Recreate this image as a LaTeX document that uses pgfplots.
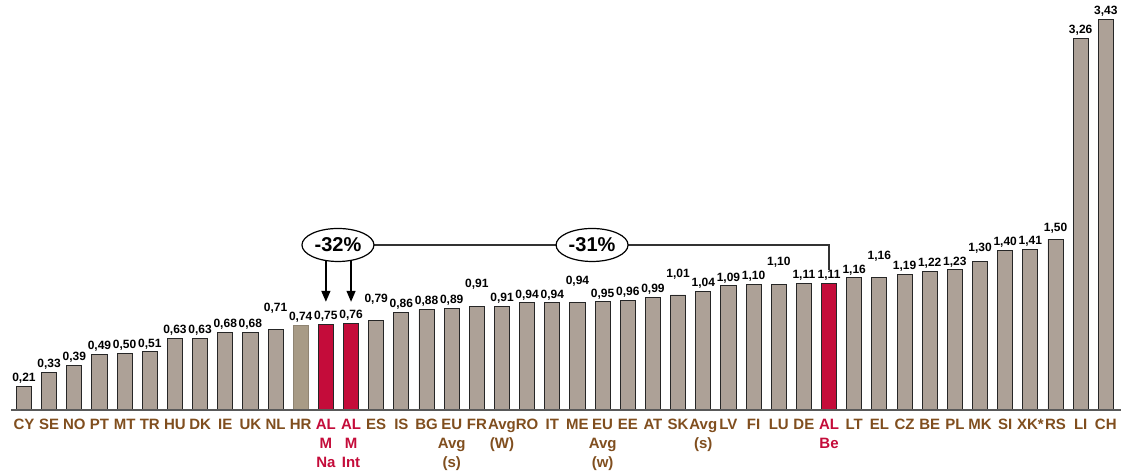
\documentclass[border=0pt]{standalone}
\usepackage{fontspec}
\setmainfont{Liberation Sans}
\usepackage{pgfplots}
\usepackage{pgfplotstable}
\pgfplotsset{compat=1.18}
\usetikzlibrary{shapes.geometric,arrows.meta}

\definecolor{barcol}{RGB}{173,161,151}
\definecolor{hrcol}{RGB}{168,155,134}
\definecolor{albred}{RGB}{196,12,58}
\definecolor{labbrown}{RGB}{128,78,30}

% x index, value, extra lift of the value label (pt)
\pgfplotstableread{
x y off
0 0.21 0
1 0.33 0
2 0.39 0
3 0.49 0
4 0.50 0
5 0.51 0
6 0.63 0
7 0.63 0
8 0.68 0
9 0.68 0
10 0.71 13
11 0.74 0
12 0.75 0
13 0.76 0
14 0.79 13
15 0.86 0
16 0.88 0
17 0.89 0
18 0.91 14
19 0.91 0
20 0.94 0
21 0.94 0
22 0.94 14
23 0.95 0
24 0.96 0
25 0.99 0
26 1.01 13
27 1.04 0
28 1.09 0
29 1.10 0
30 1.10 14
31 1.11 0
32 1.11 0
33 1.16 0
34 1.16 14
35 1.19 0
36 1.22 0
37 1.23 0
38 1.30 6
39 1.40 0
40 1.41 0
41 1.50 3
42 3.26 0
43 3.43 0
}\bars

\newcommand{\rd}[1]{\textcolor{albred}{#1}}

\begin{document}
\begin{tikzpicture}
\begin{axis}[
    scale only axis,
    width=1107pt, height=410pt,
    xmin=-0.5, xmax=43.5,
    ymin=0, ymax=3.6,
    clip=false,
    axis line style={draw=none},
    tick style={draw=none},
    ytick=\empty,
    xtick={0,...,43},
    xticklabels={CY,SE,NO,PT,MT,TR,HU,DK,IE,UK,NL,HR,
        {\rd{AL}\\\rd{M}\\\rd{Na}},{\rd{AL}\\\rd{M}\\\rd{Int}},
        ES,IS,BG,{EU\\Avg\\(s)},FR,{Avg\\(W)},RO,IT,ME,{EU\\Avg\\(w)},
        EE,AT,SK,{Avg\\(s)},LV,FI,LU,DE,{\rd{AL}\\\rd{Be}},
        LT,EL,CZ,BE,PL,MK,SI,XK*,RS,LI,CH},
    xticklabel style={font=\bfseries\fontsize{15}{19}\selectfont,
        text=labbrown, align=center, anchor=north, inner sep=0pt, yshift=-9pt},
]
\addplot[ybar, bar width=0.6, bar shift=0pt, fill=barcol, draw=black!85,
    line width=0.9pt,
    visualization depends on={\thisrow{off}\as\myoff},
    nodes near coords={\pgfmathprintnumber[fixed,fixed zerofill,precision=2,use comma]{\pgfplotspointmeta}},
    every node near coord/.append style={anchor=south, yshift=\myoff,
        font=\bfseries\fontsize{12}{14}\selectfont, text=black, inner sep=2.5pt,
        /pgf/number format/assume math mode=true}]
    table[x=x, y=y] {\bars};
\addplot[ybar, bar width=0.6, bar shift=0pt, fill=hrcol, draw=hrcol!85!black,
    line width=0.9pt] coordinates {(11,0.74)};
\addplot[ybar, bar width=0.6, bar shift=0pt, fill=albred, draw=black!85,
    line width=0.9pt] coordinates {(12,0.75) (13,0.76) (32,1.11)};

% baseline
\draw[line width=2pt, black!65] (rel axis cs:0,0) -- (rel axis cs:1.0023,0);

% annotations
\draw[line width=1.2pt, black!80] (axis cs:12.48,1.449) -- (axis cs:32,1.449) -- (axis cs:32,1.229);
\draw[line width=1.4pt, -{Triangle[length=11pt,width=9pt]}] (axis cs:12,1.40) -- (axis cs:12,0.95);
\draw[line width=1.4pt, -{Triangle[length=11pt,width=9pt]}] (axis cs:13,1.40) -- (axis cs:13,0.95);
\node[ellipse, draw, line width=1.2pt, fill=white, minimum width=72pt, minimum height=33pt,
    inner sep=0pt, font=\bfseries\fontsize{20}{24}\selectfont] at (axis cs:12.48,1.449) {-32\%};
\node[ellipse, draw, line width=1.2pt, fill=white, minimum width=72pt, minimum height=33pt,
    inner sep=0pt, font=\bfseries\fontsize{20}{24}\selectfont] at (axis cs:22.58,1.449) {-31\%};

\coordinate (bbl) at (rel axis cs:-0.0103,-0.1512);
\coordinate (btr) at (rel axis cs:1.00235,1);
\end{axis}
\pgfresetboundingbox
\path[use as bounding box] (bbl) rectangle (btr);
\end{tikzpicture}
\end{document}
